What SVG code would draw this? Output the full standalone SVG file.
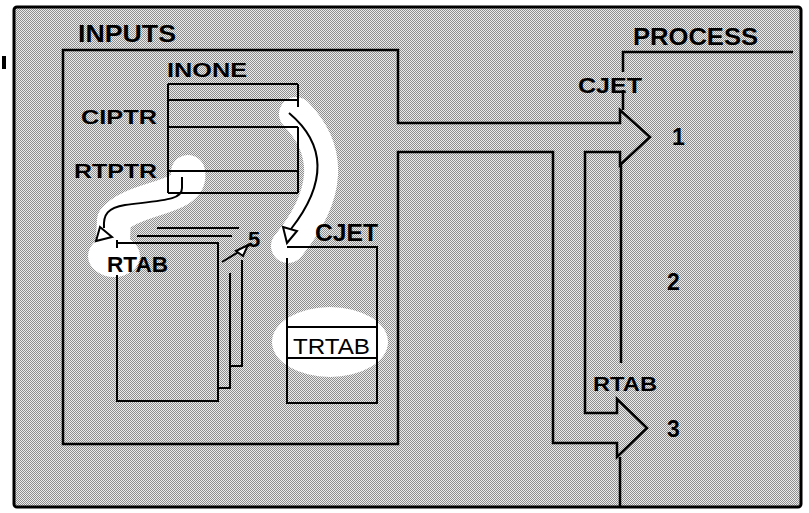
<svg xmlns="http://www.w3.org/2000/svg" width="809" height="513" viewBox="0 0 809 513">
<defs>
<pattern id="ht" width="2" height="2" patternUnits="userSpaceOnUse">
<rect width="2" height="2" fill="#ececec"/>
<rect width="1" height="1" fill="#8e8e8e"/>
<rect x="1" y="1" width="1" height="1" fill="#8e8e8e"/>
</pattern>
</defs>
<style>
.ln{fill:none;stroke:#000;stroke-width:2.5;stroke-linejoin:miter}
.th{fill:none;stroke:#000;stroke-width:2}
.glow{fill:none;stroke:#fff;stroke-linecap:round;stroke-linejoin:round}
.ah{fill:#fff;stroke:#000;stroke-width:2;stroke-linejoin:miter}
.t{font-family:"Liberation Sans",Arial,sans-serif;font-weight:bold;fill:#000}
</style>
<rect width="809" height="513" fill="#fff"/>
<rect x="2" y="56" width="4" height="13" fill="#000"/>
<g id="frame">
<rect x="14" y="7" width="787" height="500" rx="3" fill="url(#ht)" stroke="#000" stroke-width="3"/>
</g>

<g id="inputs">
<path class="ln" d="M63 50 H398 V123 H620 V110 L650 137 L620 165 V152 H585 V413 H617 V399 L647 428 L617 457 V443 H553 V152 H398 V444 H63 Z"/>
<text class="t" x="78" y="42" font-size="23" textLength="98" lengthAdjust="spacingAndGlyphs">INPUTS</text>
</g>

<g id="process">
<path class="ln" d="M623 72 V52 H793 M623 90 V110 M621 165 V363 M620 457 V507"/>
<text class="t" x="633" y="45" font-size="24" textLength="125" lengthAdjust="spacingAndGlyphs">PROCESS</text>
<text class="t" x="578" y="93" font-size="22" textLength="64" lengthAdjust="spacingAndGlyphs">CJET</text>
<text class="t" x="593" y="391" font-size="20" textLength="64" lengthAdjust="spacingAndGlyphs">RTAB</text>
<text class="t" x="672" y="145" font-size="23">1</text>
<text class="t" x="667" y="290" font-size="23">2</text>
<text class="t" x="667" y="437" font-size="23">3</text>
</g>

<g id="glows">
<path class="glow" stroke-width="34" d="M296 114 Q350 170 288 246"/>
<path class="glow" stroke-width="34" d="M188 172 C194 200 132 196 114 220 L112 256"/>
<ellipse cx="114" cy="256" rx="26" ry="21" fill="#fff"/>
<ellipse cx="330" cy="342" rx="58" ry="35" fill="#fff"/>
</g>

<g id="inone">
<path class="th" d="M168 84 H298 M168 100 H298 M168 127 H298 M168 171 H298 M168 193 H298 M168 84 V193 M298 84 V107 M298 127 V193"/>
<text class="t" x="167" y="77" font-size="21" textLength="80" lengthAdjust="spacingAndGlyphs">INONE</text>
<text class="t" x="81" y="124" font-size="20" textLength="76" lengthAdjust="spacingAndGlyphs">CIPTR</text>
<text class="t" x="74" y="178" font-size="20" textLength="83" lengthAdjust="spacingAndGlyphs">RTPTR</text>
</g>

<g id="rtab">
<path class="th" d="M157 228 H239 M137 236 H232"/>
<path class="th" d="M117 240 V248 M117 243 H218 V401 H117 V275"/>
<path class="th" d="M230 273 V388 H218 M242 260 V366 H230"/>
<text class="t" x="107" y="272" font-size="22" textLength="61" lengthAdjust="spacingAndGlyphs">RTAB</text>
<text class="t" x="248" y="247" font-size="22">5</text>
</g>

<g id="cjet">
<path class="th" d="M287 247 H377 V403 H287 V258 M287 327 H377 M287 358 H377"/>
<text class="t" x="315" y="241" font-size="23" textLength="63" lengthAdjust="spacingAndGlyphs">CJET</text>
<text class="t" x="293" y="354" font-size="22" textLength="77" lengthAdjust="spacingAndGlyphs" style="font-weight:normal">TRTAB</text>
</g>

<g id="connectors">
<path class="th" stroke-width="2.5" d="M289 113 Q345 160 291 229"/>
<polygon class="ah" points="283,227 297,231 287,243"/>
<path class="th" stroke-width="2.5" d="M182 177 V188 C182 200 165 200 125 205 C108 208 103 214 104 228"/>
<polygon class="ah" points="100,227 112,237 96,241"/>
<path class="th" d="M222 262 L250 245"/>
<polygon class="ah" points="236,251 248,245 243,256"/>
</g>
</svg>
